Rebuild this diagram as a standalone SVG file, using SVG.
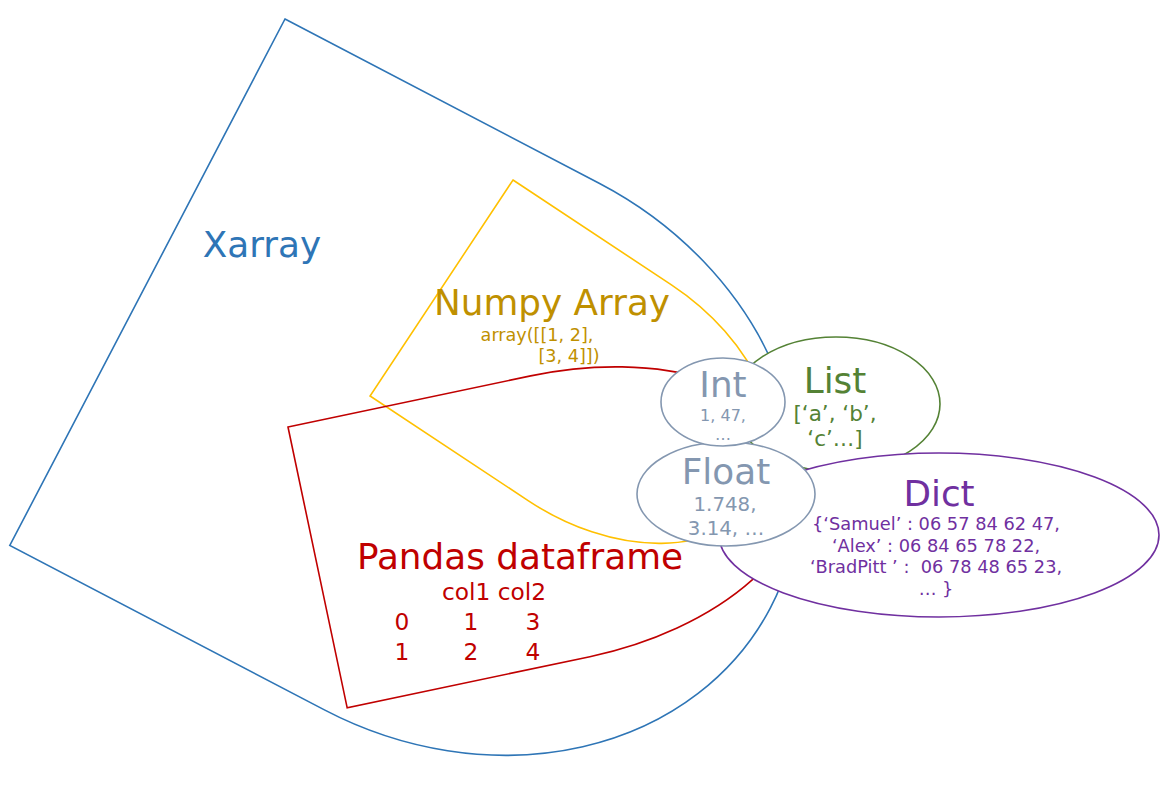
<svg xmlns="http://www.w3.org/2000/svg" width="1164" height="794" viewBox="0 0 1164 794">
<style>
text{font-family:"DejaVu Sans","Liberation Sans",sans-serif;text-anchor:middle}
.sh{fill:none;stroke-width:1.6}
.el{fill:#fff;stroke-width:1.6}
.big{font-size:35.8px}
.x{fill:#2E75B6}.np{fill:#BF9000}.pd{fill:#C00000}.gr{fill:#8497B0}.li{fill:#548235}.di{fill:#7030A0}
</style>
<rect width="1164" height="794" fill="#fff"/>
<g id="xarray">
<path class="sh" stroke="#2E75B6" transform="translate(285,19) rotate(27.6)" d="M0,0 L355,0 A348,297 0 0 1 355,594 L0,594 Z"/>
<text class="big x" x="262" y="257">Xarray</text>
</g>
<g id="numpy">
<path class="sh" stroke="#FFC000" transform="translate(513,180) rotate(33.5)" d="M0,0 L190,0 A190,129.5 0 0 1 190,259 L0,259 Z"/>
<text class="big np" x="552" y="315">Numpy Array</text>
<text class="np" font-size="17.6" x="537" y="341">array([[1, 2],</text>
<text class="np" font-size="17.6" x="569" y="362">[3, 4]])</text>
</g>
<g id="pandas">
<path class="sh" stroke="#C00000" transform="translate(288,427) rotate(-11.9)" d="M0,0 L248,0 A248,143.5 0 0 1 248,287 L0,287 Z"/>
<text class="big pd" x="520" y="569">Pandas dataframe</text>
<text class="pd" font-size="23.3" x="494" y="600">col1 col2</text>
<text class="pd" font-size="23.3" x="402" y="630">0</text>
<text class="pd" font-size="23.3" x="471" y="630">1</text>
<text class="pd" font-size="23.3" x="533" y="630">3</text>
<text class="pd" font-size="23.3" x="402" y="660">1</text>
<text class="pd" font-size="23.3" x="471" y="660">2</text>
<text class="pd" font-size="23.3" x="533" y="660">4</text>
</g>
<g id="list">
<ellipse class="el" stroke="#548235" cx="836" cy="404" rx="104" ry="67"/>
<text class="big li" x="835" y="393">List</text>
<text class="li" font-size="21.5" x="835" y="421">[‘a’, ‘b’,</text>
<text class="li" font-size="21.5" x="835" y="446">‘c’…]</text>
</g>
<g id="dict">
<ellipse class="el" stroke="#7030A0" cx="939" cy="535" rx="220" ry="82"/>
<text class="big di" x="939" y="506">Dict</text>
<text class="di" font-size="17.8" x="936" y="530">{‘Samuel’ : 06 57 84 62 47,</text>
<text class="di" font-size="17.8" x="936" y="552">‘Alex’ : 06 84 65 78 22,</text>
<text class="di" font-size="17.8" x="936" y="573" xml:space="preserve">‘BradPitt ’ :  06 78 48 65 23,</text>
<text class="di" font-size="17.8" x="936" y="595">… }</text>
</g>
<g id="float">
<ellipse class="el" stroke="#8497B0" cx="726" cy="494" rx="89" ry="52"/>
<text class="big gr" x="726" y="484">Float</text>
<text class="gr" font-size="19.8" x="725" y="511">1.748,</text>
<text class="gr" font-size="19.8" x="726" y="535">3.14, …</text>
</g>
<g id="int">
<ellipse class="el" stroke="#8497B0" cx="723" cy="402" rx="62" ry="44"/>
<text class="big gr" x="723" y="397">Int</text>
<text class="gr" font-size="16" x="723" y="421">1, 47,</text>
<text class="gr" font-size="16" x="723" y="440">…</text>
</g>
<g id="connectors"></g>
</svg>
